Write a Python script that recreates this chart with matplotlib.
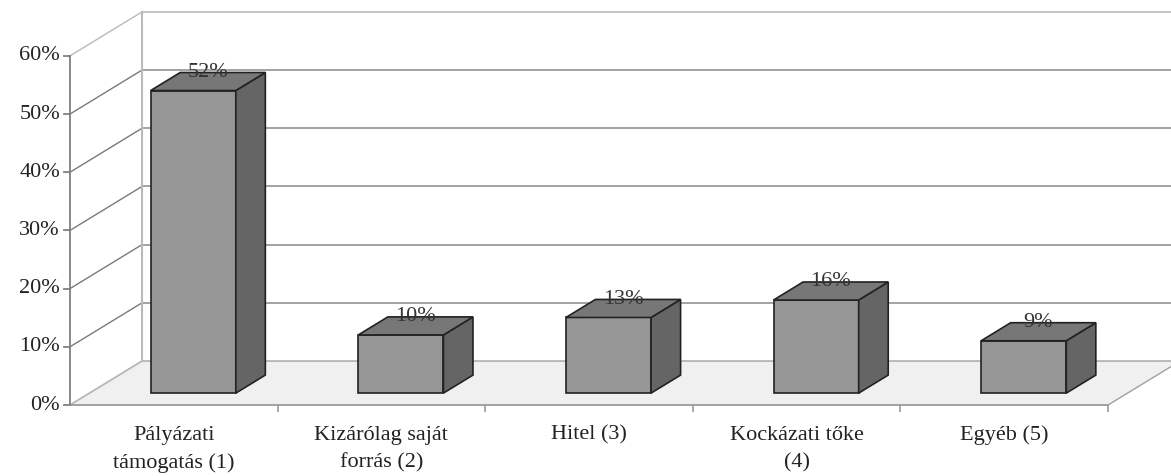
import matplotlib.pyplot as plt
from matplotlib.patches import Polygon

categories = ['Pályázati\ntámogatás (1)', 'Kizárólag saját\nforrás (2)', 'Hitel (3)',
              'Kockázati tőke\n(4)', 'Egyéb (5)']
values = [52, 10, 13, 16, 9]
yticks = [0, 10, 20, 30, 40, 50, 60]
ytick_labels = ['0%', '10%', '20%', '30%', '40%', '50%', '60%']

plt.rcParams['font.family'] = ['Liberation Serif', 'DejaVu Serif']

# 3d look: floor depth offset (x in category units, y in percent)
DX, DY = 0.347, 7.56
D0, D1 = 0.27, 0.68  # bar front / back depth
BW = 0.41
FS = 16
SIDE = '#7a7a7a'
GRID = '#939393'
LIGHT = '#bababa'
AXIS = '#808080'


def proj(x, y, d):
    return (x + d * DX, y + d * DY)


def seg(ax, p, q, **kw):
    ax.plot([p[0], q[0]], [p[1], q[1]], **kw)


fig = plt.figure(figsize=(11.71, 4.76), dpi=100)
ax = fig.add_axes([0, 0, 1, 1])
ax.set_xlim(-0.337, 5.303)
ax.set_ylim(-12.2, 69.6)
ax.axis('off')

n = len(categories)
top = yticks[-1]

# floor
ax.add_patch(Polygon([proj(0, 0, 0), proj(n, 0, 0), proj(n, 0, 1), proj(0, 0, 1)],
                     closed=True, fc='#f0f0f0', ec='#a0a0a0', lw=1, zorder=1))

# walls and gridlines
for t in yticks:
    c = LIGHT if t in (0, top) else SIDE
    seg(ax, proj(0, t, 0), proj(0, t, 1), color=c, lw=1, zorder=2)
    if t > 0:
        seg(ax, proj(0, t, 1), proj(n, t, 1), color=LIGHT if t == top else GRID, lw=1.2, zorder=2)
seg(ax, proj(0, 0, 1), proj(0, top, 1), color=LIGHT, lw=1.5, zorder=2)

# axes
seg(ax, proj(0, 0, 0), proj(0, top, 0), color=AXIS, lw=1.3, zorder=3)
seg(ax, proj(0, 0, 0), proj(n, 0, 0), color='#a0a0a0', lw=1.3, zorder=3)
for t, lab in zip(yticks, ytick_labels):
    seg(ax, (-0.03, t), (0, t), color=AXIS, lw=1.3, zorder=3)
    ax.text(-0.048, t, lab, ha='right', va='center', fontsize=FS, color='#222222')
for i in range(1, n + 1):
    seg(ax, (i, 0), (i, -1.0), color='#a0a0a0', lw=1.3, zorder=3)

# bars
for i, v in enumerate(values):
    x0 = i + 0.5 - BW / 2
    x1 = x0 + BW
    front = [proj(x0, 0, D0), proj(x1, 0, D0), proj(x1, v, D0), proj(x0, v, D0)]
    side = [proj(x1, 0, D0), proj(x1, 0, D1), proj(x1, v, D1), proj(x1, v, D0)]
    lid = [proj(x0, v, D0), proj(x1, v, D0), proj(x1, v, D1), proj(x0, v, D1)]
    for poly, col in ((front, '#969696'), (side, '#656565'), (lid, '#777777')):
        ax.add_patch(Polygon(poly, closed=True, fc=col, ec='#222222', lw=1.2,
                             joinstyle='miter', zorder=4))
    lx = proj(i + 0.5, v, (D0 + D1) / 2)[0]
    ax.text(lx, v + D1 * DY, f'{v}%', ha='center', va='center', fontsize=FS,
            color='#333333', zorder=5)

# category labels, one text per line
for i, cat in enumerate(categories):
    for j, line in enumerate(cat.split('\n')):
        ax.text(i + 0.5, -6.0 - j * 4.81, line, ha='center', va='baseline',
                fontsize=FS, color='#222222')

fig.savefig('out.png', dpi=100)
